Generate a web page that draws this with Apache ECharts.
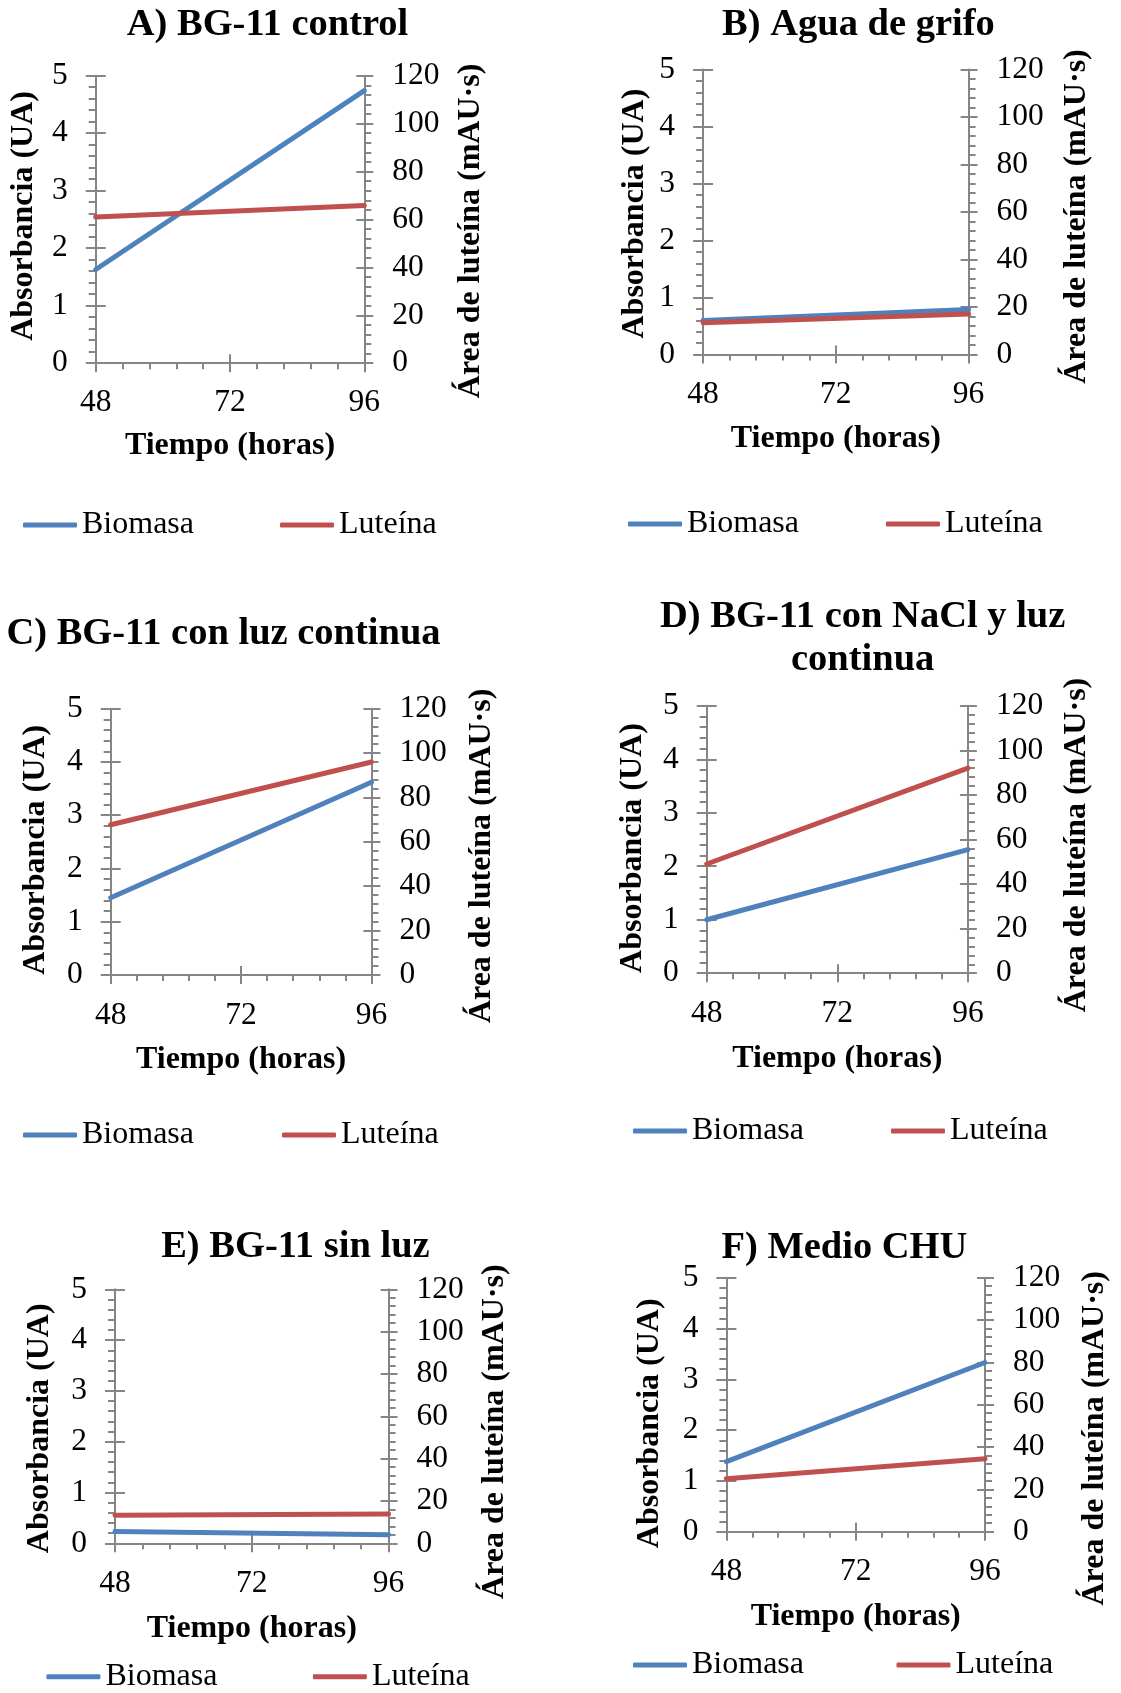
<!DOCTYPE html>
<html><head><meta charset="utf-8">
<script src="https://cdn.jsdelivr.net/npm/echarts@6/dist/echarts.min.js"></script>
<style>html,body{margin:0;padding:0;background:#fff}#c{width:1121px;height:1693px}</style>
</head><body><div id="c"></div>
<script>
// ---- data ----
const hours = [48, 96];
const panelTitles = ['A) BG-11 control', 'B) Agua de grifo', 'C) BG-11 con luz continua',
  'D) BG-11 con NaCl y luz\ncontinua', 'E) BG-11 sin luz', 'F) Medio CHU'];
const seriesNames = ['Biomasa', 'Luteína'];
const xName = 'Tiempo (horas)';
const yLeftName = 'Absorbancia (UA)';
const yRightName = 'Área de luteína (mAU·s)';
const biomasaA = [1.63, 4.74];  const luteinaA = [61.0, 65.8];
const biomasaB = [0.60, 0.79];  const luteinaB = [13.4, 17.1];
const biomasaC = [1.45, 3.62];  const luteinaC = [67.7, 96.0];
const biomasaD = [1.00, 2.31];  const luteinaD = [49.0, 92.0];
const biomasaE = [0.23, 0.17];  const luteinaE = [13.3, 13.8];
const biomasaF = [1.38, 3.33];  const luteinaF = [25.0, 34.5];

// ---- layout / style ----
const bio = [biomasaA, biomasaB, biomasaC, biomasaD, biomasaE, biomasaF];
const lut = [luteinaA, luteinaB, luteinaC, luteinaD, luteinaE, luteinaF];
const L = [
 {g:[95.7,75.7,364.3,363.2], t:[267.5,25], lg:[23,525,86], gx:66.5, gl:55.5, gr:90.5, dl:-3.5, dr:11.5, lm:23.2},
 {g:[703.1,69.6,968.6,354.6], t:[858.4,25], lg:[628,524,87], gx:68.5, gl:52, gr:92.5, dl:1.5, dr:4.4, lm:24.2},
 {g:[110.7,708.7,371.4,975], t:[223.5,633.6], lg:[23,1135,88], gx:69, gl:59, gr:94.5, dl:8, dr:14, lm:25},
 {g:[706.7,705.8,967.9,973.2], t:[862.7,617], lg:[633,1131,87], gx:69.5, gl:57.5, gr:93, dl:8.5, dr:5.5, lm:24.2},
 {g:[115,1289.3,388.6,1543.3], t:[295.4,1246.7], lg:[46.4,1676.7,95.5], gx:69, gl:59.5, gr:90, dl:12, dr:15.4, lm:24.2},
 {g:[726.4,1277.7,985,1531.7], t:[844.4,1248.3], lg:[633,1665,92.5], gx:69, gl:61, gr:94, dl:18.6, dr:33.6, lm:24.2}
];
const FONT = 'Liberation Serif';
const GRAY = '#868686';
const BLUE = '#4F81BD';
const RED = '#C0504D';
const tickLS = {color: GRAY, width: 2};
const nameStyle = (pad) => ({fontSize: 32, fontWeight: 'bold', fontFamily: FONT, color: '#000', padding: pad});
const shiftPad = (d) => d >= 0 ? [0, 2 * d, 0, 0] : [0, 0, 0, -2 * d];
const labelStyle = (m) => ({margin: m, fontSize: 31.5, fontFamily: FONT, color: '#000'});

const grids = [], xAxes = [], yAxes = [], series = [], titles = [], legends = [];
L.forEach((p, i) => {
  const [x1, y1, x2, y2] = p.g;
  grids.push({left: x1, top: y1, width: x2 - x1, height: y2 - y1, containLabel: false, outerBoundsMode: 'none', show: false});
  xAxes.push({type: 'value', gridIndex: i, position: 'bottom', min: 48, max: 96, interval: 24,
    name: xName, nameLocation: 'middle', nameGap: p.gx, nameTextStyle: nameStyle(0),
    axisLine: {show: true, onZero: false, lineStyle: tickLS},
    axisTick: {show: true, inside: false, length: 9, lineStyle: tickLS},
    minorTick: {show: true, splitNumber: 5, length: 6, lineStyle: tickLS},
    axisLabel: labelStyle(p.lm), splitLine: {show: false}, minorSplitLine: {show: false}});
  xAxes.push({type: 'value', gridIndex: i, position: 'bottom', min: 48, max: 96, interval: 24,
    axisLine: {show: false}, axisTick: {show: true, inside: true, length: 9, lineStyle: tickLS},
    minorTick: {show: false}, axisLabel: {show: false}, splitLine: {show: false}});
  yAxes.push({type: 'value', gridIndex: i, position: 'left', min: 0, max: 5, interval: 1,
    name: yLeftName, nameLocation: 'middle', nameGap: p.gl, nameTextStyle: nameStyle(shiftPad(p.dl)),
    axisLine: {show: true, onZero: false, lineStyle: tickLS},
    axisTick: {show: true, inside: false, length: 10, lineStyle: tickLS},
    minorTick: {show: true, splitNumber: 5, length: 7, lineStyle: tickLS},
    axisLabel: labelStyle(28), splitLine: {show: false}, minorSplitLine: {show: false}});
  yAxes.push({type: 'value', gridIndex: i, position: 'right', min: 0, max: 120, interval: 20,
    name: yRightName, nameLocation: 'middle', nameGap: p.gr, nameTextStyle: nameStyle(shiftPad(p.dr)),
    axisLine: {show: true, onZero: false, lineStyle: tickLS},
    axisTick: {show: true, inside: false, length: 9, lineStyle: tickLS},
    minorTick: {show: true, splitNumber: 5, length: 7, lineStyle: tickLS},
    axisLabel: labelStyle(28), splitLine: {show: false}, minorSplitLine: {show: false}});
  yAxes.push({type: 'value', gridIndex: i, position: 'left', min: 0, max: 5, interval: 1,
    axisLine: {show: false}, axisTick: {show: true, inside: true, length: 10, lineStyle: tickLS},
    minorTick: {show: false}, axisLabel: {show: false}, splitLine: {show: false}});
  yAxes.push({type: 'value', gridIndex: i, position: 'right', min: 0, max: 120, interval: 20,
    axisLine: {show: false}, axisTick: {show: true, inside: true, length: 8, lineStyle: tickLS},
    minorTick: {show: false}, axisLabel: {show: false}, splitLine: {show: false}});

  series.push({type: 'line', name: seriesNames[0], xAxisIndex: 2 * i, yAxisIndex: 4 * i,
    data: hours.map((h, k) => [h, bio[i][k]]), showSymbol: false, symbol: 'none',
    lineStyle: {color: BLUE, width: 5, cap: 'round'}, itemStyle: {color: BLUE}, z: 3, silent: true});
  series.push({type: 'line', name: seriesNames[1], xAxisIndex: 2 * i, yAxisIndex: 4 * i + 1,
    data: hours.map((h, k) => [h, lut[i][k]]), showSymbol: false, symbol: 'none',
    lineStyle: {color: RED, width: 5, cap: 'round'}, itemStyle: {color: RED}, z: 3, silent: true});

  titles.push({text: panelTitles[i], left: p.t[0], top: p.t[1] - 21.5, textAlign: 'center', padding: 0,
    textStyle: {fontSize: 38.5, fontWeight: 'bold', fontFamily: FONT, color: '#000', lineHeight: 43}});
  legends.push({left: p.lg[0], top: p.lg[1] - 16, padding: 0, itemGap: p.lg[2], itemWidth: 54, itemHeight: 5,
    icon: 'roundRect', data: seriesNames, selectedMode: false,
    textStyle: {fontSize: 32, fontFamily: FONT, color: '#000'}});
});

const chart = echarts.init(document.getElementById('c'), null, {renderer: 'canvas'});
chart.setOption({
  animation: false,
  backgroundColor: '#fff',
  title: titles, legend: legends, grid: grids, xAxis: xAxes, yAxis: yAxes, series: series
});
</script></body></html>
